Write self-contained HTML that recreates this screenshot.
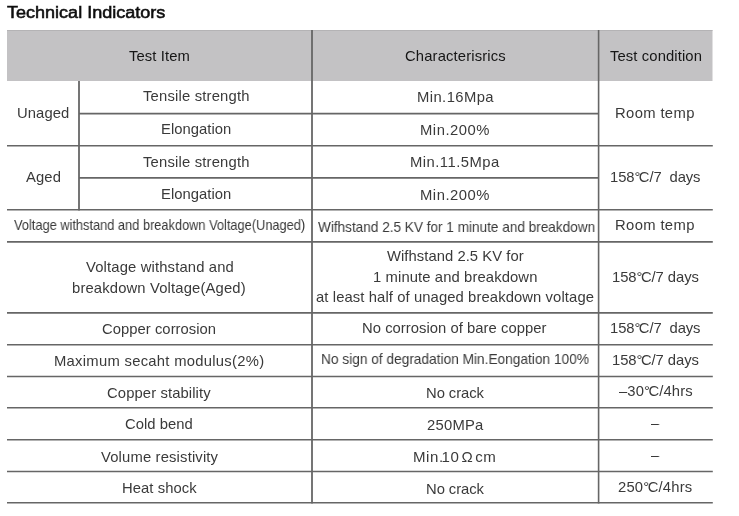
<!DOCTYPE html>
<html><head><meta charset="utf-8"><style>
html,body{margin:0;padding:0;background:#ffffff;}
body{width:739px;height:516px;position:relative;overflow:hidden;}
svg{position:absolute;left:0;top:0;}
.t{position:absolute;white-space:pre;font-family:'Liberation Sans',sans-serif;line-height:20px;transform-origin:0 0;will-change:transform;}
.title{font-size:16.5px;color:#0e0e0e;-webkit-text-stroke:0.55px #0e0e0e;}
.head{font-size:14.8px;color:#161616;}
.body{font-size:14.8px;color:#3a3a3a;}
.deg{letter-spacing:-1.5px;}
.ls{letter-spacing:2.5px}.dt{letter-spacing:-1.5px}
</style></head><body>
<svg width="739" height="516" viewBox="0 0 739 516">
<rect x="7" y="30" width="705.5" height="51" fill="#c3c2c4"/>
<line x1="7" y1="30.5" x2="712.5" y2="30.5" stroke="#b4b3b5" stroke-width="1"/>
<line x1="79" y1="113.6" x2="598.6" y2="113.6" stroke="#666666" stroke-width="1.6"/>
<line x1="7" y1="145.7" x2="712.8" y2="145.7" stroke="#666666" stroke-width="1.6"/>
<line x1="79" y1="177.9" x2="598.6" y2="177.9" stroke="#666666" stroke-width="1.6"/>
<line x1="7" y1="209.7" x2="712.8" y2="209.7" stroke="#666666" stroke-width="1.6"/>
<line x1="7" y1="241.9" x2="712.8" y2="241.9" stroke="#666666" stroke-width="1.6"/>
<line x1="7" y1="312.9" x2="712.8" y2="312.9" stroke="#666666" stroke-width="1.6"/>
<line x1="7" y1="344.8" x2="712.8" y2="344.8" stroke="#666666" stroke-width="1.6"/>
<line x1="7" y1="376.5" x2="712.8" y2="376.5" stroke="#666666" stroke-width="1.6"/>
<line x1="7" y1="407.8" x2="712.8" y2="407.8" stroke="#666666" stroke-width="1.6"/>
<line x1="7" y1="439.7" x2="712.8" y2="439.7" stroke="#666666" stroke-width="1.6"/>
<line x1="7" y1="471.5" x2="712.8" y2="471.5" stroke="#666666" stroke-width="1.6"/>
<line x1="7" y1="502.8" x2="712.8" y2="502.8" stroke="#666666" stroke-width="1.6"/>
<line x1="79" y1="81" x2="79" y2="210.5" stroke="#666666" stroke-width="1.8"/>
<line x1="312" y1="30" x2="312" y2="503.6" stroke="#666666" stroke-width="1.8"/>
<line x1="598.6" y1="30" x2="598.6" y2="503.6" stroke="#666666" stroke-width="1.6"/>
</svg>
<div class="t title" style="left:7.00px;top:2.30px;transform:scaleX(1.0924);">Technical Indicators</div>
<div class="t head" style="left:129.40px;top:45.80px;letter-spacing:0.1px;">Test Item</div>
<div class="t head" style="left:404.60px;top:46.10px;letter-spacing:0.14px;">Characterisrics</div>
<div class="t head" style="left:610.30px;top:46.00px;letter-spacing:0.11px;">Test condition</div>
<div class="t body" style="left:16.80px;top:102.80px;letter-spacing:0.08px;">Unaged</div>
<div class="t body" style="left:142.70px;top:86.20px;letter-spacing:0.19px;">Tensile strength</div>
<div class="t body" style="left:161.05px;top:119.20px;letter-spacing:0.03px;">Elongation</div>
<div class="t body" style="left:26.15px;top:166.90px;letter-spacing:0.1px;">Aged</div>
<div class="t body" style="left:142.70px;top:152.30px;letter-spacing:0.19px;">Tensile strength</div>
<div class="t body" style="left:161.05px;top:184.10px;letter-spacing:0.03px;">Elongation</div>
<div class="t body" style="left:14.10px;top:214.70px;transform:scaleX(0.8654);">Voltage withstand and breakdown Voltage(Unaged)</div>
<div class="t body" style="left:85.70px;top:257.20px;letter-spacing:0.15px;">Voltage withstand and</div>
<div class="t body" style="left:72.15px;top:277.80px;letter-spacing:0.15px;">breakdown Voltage(Aged)</div>
<div class="t body" style="left:102.00px;top:318.80px;letter-spacing:0.04px;">Copper corrosion</div>
<div class="t body" style="left:54.35px;top:351.30px;letter-spacing:0.28px;">Maximum secaht modulus(2%)</div>
<div class="t body" style="left:107.00px;top:382.70px;letter-spacing:0.11px;">Copper stability</div>
<div class="t body" style="left:125.00px;top:414.40px;letter-spacing:0.02px;">Cold bend</div>
<div class="t body" style="left:100.50px;top:446.70px;letter-spacing:0.16px;">Volume resistivity</div>
<div class="t body" style="left:121.50px;top:478.40px;letter-spacing:0.07px;">Heat shock</div>
<div class="t body" style="left:416.70px;top:86.60px;letter-spacing:0.42px;">Min.16Mpa</div>
<div class="t body" style="left:419.65px;top:119.50px;letter-spacing:0.53px;">Min.200%</div>
<div class="t body" style="left:409.85px;top:152.00px;letter-spacing:0.47px;">Min.11.5Mpa</div>
<div class="t body" style="left:419.65px;top:184.50px;letter-spacing:0.53px;">Min.200%</div>
<div class="t body" style="left:317.70px;top:217.30px;transform:scaleX(0.9179);">Wifhstand 2.5 KV for 1 minute and breakdown</div>
<div class="t body" style="left:387.10px;top:246.20px;letter-spacing:0.05px;">Wifhstand 2.5 KV for</div>
<div class="t body" style="left:373.20px;top:266.90px;letter-spacing:0.11px;">1 minute and breakdown</div>
<div class="t body" style="left:316.10px;top:287.20px;letter-spacing:0.1px;">at least half of unaged breakdown voltage</div>
<div class="t body" style="left:362.15px;top:318.05px;letter-spacing:0.04px;">No corrosion of bare copper</div>
<div class="t body" style="left:320.97px;top:349.40px;transform:scaleX(0.9253);">No sign of degradation Min.Eongation 100%</div>
<div class="t body" style="left:425.50px;top:382.90px;letter-spacing:-0.06px;">No crack</div>
<div class="t body" style="left:426.50px;top:415.00px;letter-spacing:0.24px;">250MPa</div>
<div class="t body" style="left:413.38px;top:446.90px;transform:scaleX(1.0175);letter-spacing:0.55px;">Min<span class="dt">.</span>1<span class="ls">0Ω</span>cm</div>
<div class="t body" style="left:425.50px;top:479.00px;letter-spacing:-0.06px;">No crack</div>
<div class="t body" style="left:615.45px;top:102.90px;letter-spacing:0.36px;">Room temp</div>
<div class="t body" style="left:609.90px;top:167.20px;letter-spacing:-0.1px;">158<span class="deg">°</span>C/7  days</div>
<div class="t body" style="left:615.45px;top:215.00px;letter-spacing:0.36px;">Room temp</div>
<div class="t body" style="left:611.75px;top:266.70px;letter-spacing:-0.06px;">158<span class="deg">°</span>C/7 days</div>
<div class="t body" style="left:609.90px;top:318.30px;letter-spacing:-0.1px;">158<span class="deg">°</span>C/7  days</div>
<div class="t body" style="left:611.75px;top:350.30px;letter-spacing:-0.06px;">158<span class="deg">°</span>C/7 days</div>
<div class="t body" style="left:619.05px;top:381.30px;letter-spacing:0.12px;">–30<span class="deg">°</span>C/4hrs</div>
<div class="t body" style="left:651.40px;top:413.00px;transform:scaleX(0.9625);">–</div>
<div class="t body" style="left:651.40px;top:445.00px;transform:scaleX(0.9625);">–</div>
<div class="t body" style="left:617.65px;top:477.40px;letter-spacing:0.19px;">250<span class="deg">°</span>C/4hrs</div>
</body></html>
